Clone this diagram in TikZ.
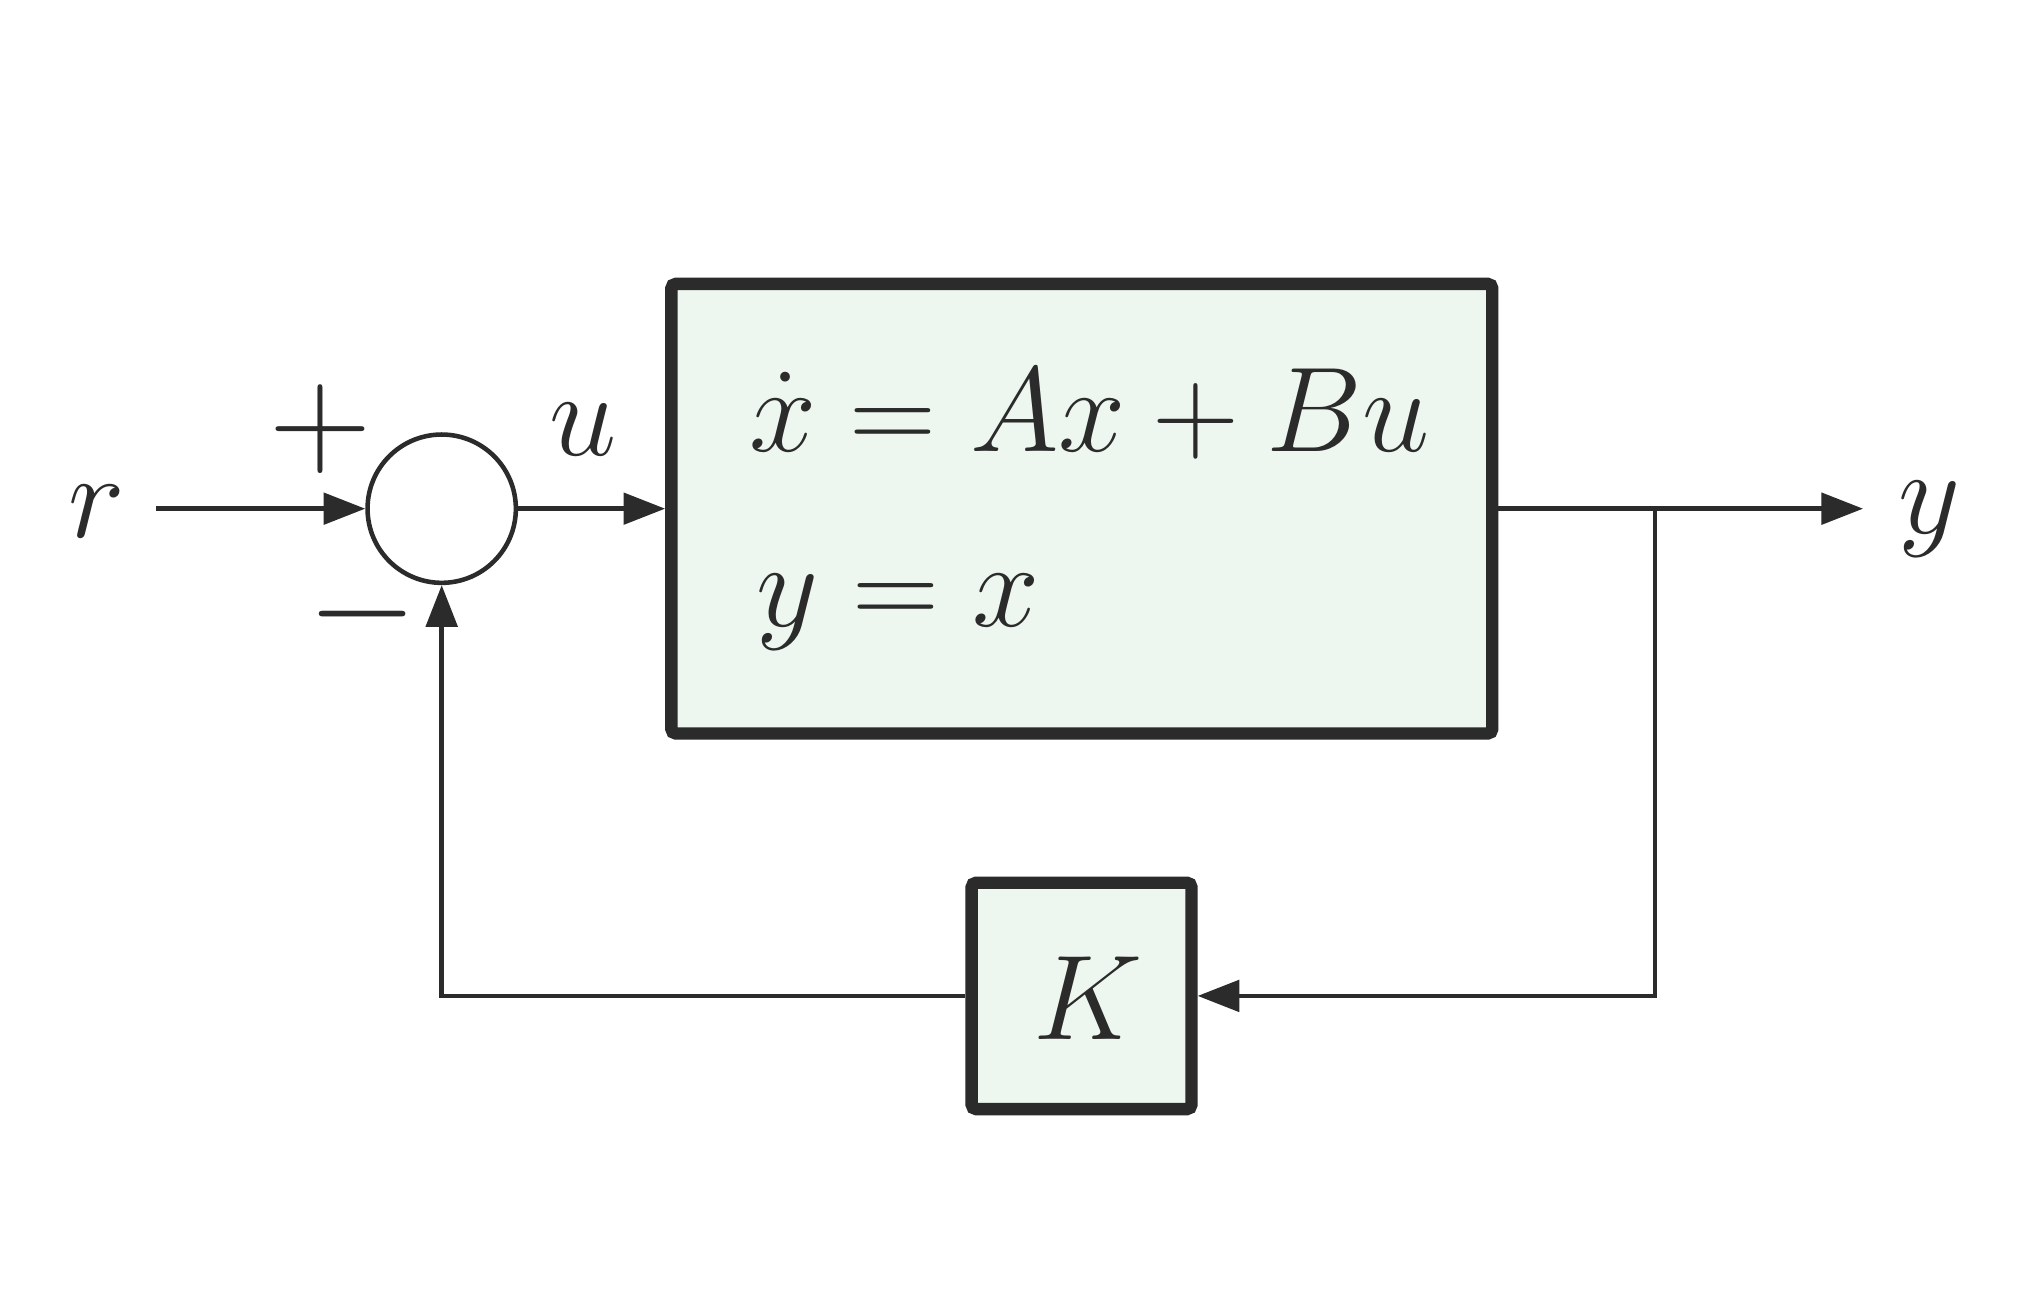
\documentclass[tikz,border=0pt]{standalone}
\usepackage{fix-cm}
\usetikzlibrary{arrows.meta}
\definecolor{ink}{HTML}{2B2B2B}
\definecolor{plantfill}{HTML}{EDF7EF}
\begin{document}
\begin{tikzpicture}[
  x=1cm,y=1cm,
  every node/.style={font=\fontsize{26.4}{31}\selectfont, text=ink},
  sig/.style={draw=ink, line width=0.035cm, -{Triangle[length=0.32cm,width=0.24cm]}},
  blockbox/.style={draw=ink, fill=plantfill, line width=0.095cm, rounded corners=1pt, inner sep=0pt},
  sumnode/.style={circle, draw=ink, line width=0.035cm, minimum size=1.14cm, inner sep=0pt},
  lbl/.style={anchor=base, inner sep=0pt},
  signlbl/.style={font=\fontsize{31}{36}\selectfont, inner sep=0pt},
]
\useasboundingbox (0,0) rectangle (15.68,10.08);
\fill[white] (0,0) rectangle (15.68,10.08);

\node[sumnode] (sum) at (3.395,6.17) {};
\node[blockbox, minimum width=6.31cm, minimum height=3.456cm] (plant) at (8.315,6.17) {};
\node[blockbox, minimum width=1.69cm, minimum height=1.74cm] (K) at (8.313,2.425) {};
\node[lbl] (Klbl) at (8.36,2.09) {$K$};

\node[lbl] (r) at (0.745,5.95) {$r$};
\coordinate (rin) at (1.20,6.17);
\node[lbl] (u) at (4.48,6.58) {$u$};
\node[signlbl] (plus) at (2.46,6.78) {$+$};
\node[signlbl] (minus) at (2.79,5.36) {$-$};

\node[lbl, anchor=base west] (eq1) at (5.75,6.61) {$\dot x = Ax + Bu$};
\node[lbl, anchor=base west] (eq2) at (5.81,5.263) {$y = x$};

\node[lbl] (y) at (14.83,5.98) {$y$};
\coordinate (yout) at (14.32,6.17);
\coordinate (branch) at (12.72,6.17);

\draw[sig] (rin) -- (sum.west);
\draw[sig] (sum.east) -- (plant.west);
\draw[sig] (plant.east) -- (yout);
\draw[sig] (branch) |- (K.east);
\draw[sig] (K.west) -| (sum.south);
\end{tikzpicture}
\end{document}
